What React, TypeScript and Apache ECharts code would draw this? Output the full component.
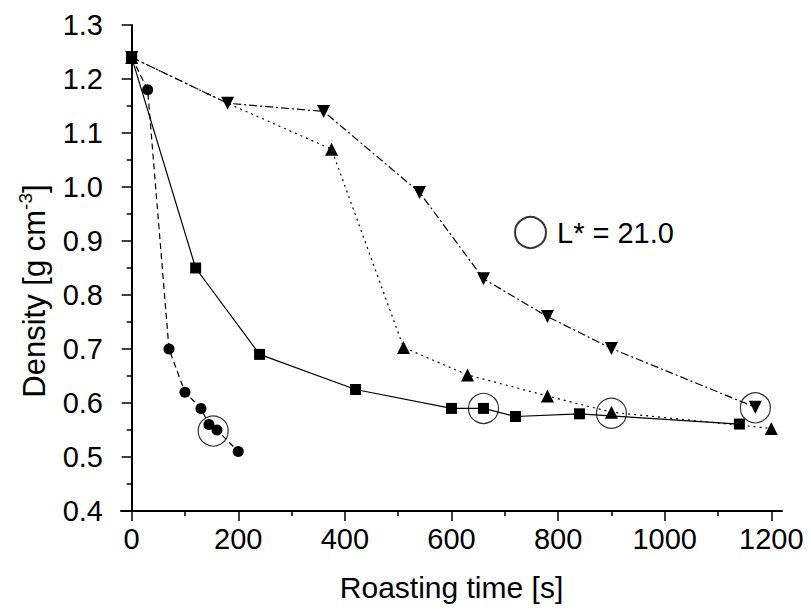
import React, { useEffect, useRef } from "react";
import * as echarts from "echarts";

const circleX = [0, 30, 70, 100, 130, 145, 160, 200];
const circleY = [1.24, 1.18, 0.7, 0.62, 0.59, 0.56, 0.55, 0.51];
const squareX = [0, 120, 240, 420, 600, 660, 720, 840, 1140];
const squareY = [1.24, 0.85, 0.69, 0.625, 0.59, 0.59, 0.575, 0.58, 0.561];
const upX = [0, 180, 375, 510, 630, 780, 900, 1200];
const upY = [1.24, 1.155, 1.07, 0.703, 0.652, 0.613, 0.583, 0.553];
const downX = [0, 180, 360, 540, 660, 780, 900, 1170];
const downY = [1.24, 1.155, 1.14, 0.99, 0.83, 0.76, 0.701, 0.592];
const markX = [153, 660, 900, 1170];
const markY = [0.548, 0.59, 0.581, 0.591];
const xMajor = [0, 200, 400, 600, 800, 1000, 1200];
const xMinor = [100, 300, 500, 700, 900, 1100];

const FONT = "'Liberation Sans', Arial, sans-serif";
const pairs = (xs: number[], ys: number[]) => xs.map((x, i) => [x, ys[i]]);

export default function App() {
  const ref = useRef<HTMLDivElement>(null);
  useEffect(() => {
    if (!ref.current) return;
    const chart = echarts.init(ref.current, null, { renderer: "svg" });
    const lineBase = { type: "line", xAxisIndex: 0, yAxisIndex: 0, z: 3 };
    // the up-triangle series shares its second point with the down-triangle series (hidden marker)
    const upData = pairs(upX, upY).map((p, i) =>
      i === 1 ? { value: p, symbol: "none" } : p
    );
    chart.setOption({
      animation: false,
      backgroundColor: "#fff",
      textStyle: { fontFamily: FONT, color: "#000" },
      grid: { left: 121, top: 25, right: 29, bottom: 101 },
      legend: {
        data: ["L* = 21.0"],
        left: 514,
        top: 216,
        padding: 0,
        itemWidth: 31,
        itemHeight: 31,
        textStyle: { fontFamily: FONT, fontSize: 29, color: "#000", padding: [0, 0, 0, 6] },
      },
      xAxis: [
        {
          type: "value",
          min: -20,
          max: 1220,
          position: "bottom",
          axisLine: { show: true, lineStyle: { color: "#000", width: 2 } },
          axisTick: { show: true, length: 10, customValues: xMajor, lineStyle: { color: "#000", width: 1.5 } },
          axisLabel: {
            customValues: xMajor,
            fontSize: 29,
            color: "#000",
            fontFamily: FONT,
            margin: 13,
            formatter: (v: number) => String(v),
          },
          splitLine: { show: false },
          name: "Roasting time [s]",
          nameLocation: "middle",
          nameGap: 61,
          nameTextStyle: { fontSize: 30, color: "#000", fontFamily: FONT },
        },
        {
          type: "value",
          min: -20,
          max: 1220,
          position: "bottom",
          axisLine: { show: false },
          axisTick: { show: true, length: 5, customValues: xMinor, lineStyle: { color: "#000", width: 1.5 } },
          axisLabel: { show: false },
          splitLine: { show: false },
        },
      ],
      yAxis: {
        type: "value",
        min: 0.4,
        max: 1.3,
        interval: 0.1,
        axisLine: { show: true, lineStyle: { color: "#000", width: 2 } },
        axisTick: { show: true, length: 10, lineStyle: { color: "#000", width: 1.5 } },
        minorTick: { show: true, splitNumber: 2, length: 5, lineStyle: { color: "#000", width: 1.5 } },
        axisLabel: {
          fontSize: 29,
          color: "#000",
          fontFamily: FONT,
          margin: 18,
          formatter: (v: number) => v.toFixed(1),
        },
        splitLine: { show: false },
      },
      graphic: [
        {
          type: "text",
          x: 34,
          y: 291,
          rotation: Math.PI / 2,
          style: {
            text: "{a|Density [g cm}{s|-3}{a|]}",
            align: "center",
            verticalAlign: "middle",
            fill: "#000",
            rich: {
              a: { fontSize: 31, fontFamily: FONT, fill: "#000" },
              s: { fontSize: 19, fontFamily: FONT, fill: "#000", padding: [0, 0, 17, 0] },
            },
          },
        },
      ],
      series: [
        {
          ...lineBase,
          name: "circles",
          data: pairs(circleX, circleY),
          symbol: "circle",
          symbolSize: 11,
          itemStyle: { color: "#000" },
          lineStyle: { color: "#000", width: 1.2, type: [6, 4] },
        },
        {
          ...lineBase,
          name: "squares",
          data: pairs(squareX, squareY),
          symbol: "rect",
          symbolSize: 11,
          itemStyle: { color: "#000" },
          lineStyle: { color: "#000", width: 1.2, type: "solid" },
        },
        {
          ...lineBase,
          name: "up",
          data: upData,
          symbol: "triangle",
          symbolSize: 13,
          itemStyle: { color: "#000" },
          lineStyle: { color: "#000", width: 1.2, type: [2, 4] },
        },
        {
          ...lineBase,
          name: "down",
          data: pairs(downX, downY),
          symbol: "triangle",
          symbolRotate: 180,
          symbolSize: 13,
          itemStyle: { color: "#000" },
          lineStyle: { color: "#000", width: 1.2, type: [8, 3, 2, 3] },
        },
        {
          type: "scatter",
          name: "L* = 21.0",
          data: pairs(markX, markY),
          symbol: "circle",
          symbolSize: 30,
          z: 4,
          itemStyle: { color: "rgba(0,0,0,0)", borderColor: "#000", borderWidth: 1.2 },
        },
      ],
    });
    return () => chart.dispose();
  }, []);
  return (
    <div
      ref={ref}
      style={{ position: "fixed", left: 0, top: 0, width: 811, height: 612, background: "#fff" }}
    />
  );
}
